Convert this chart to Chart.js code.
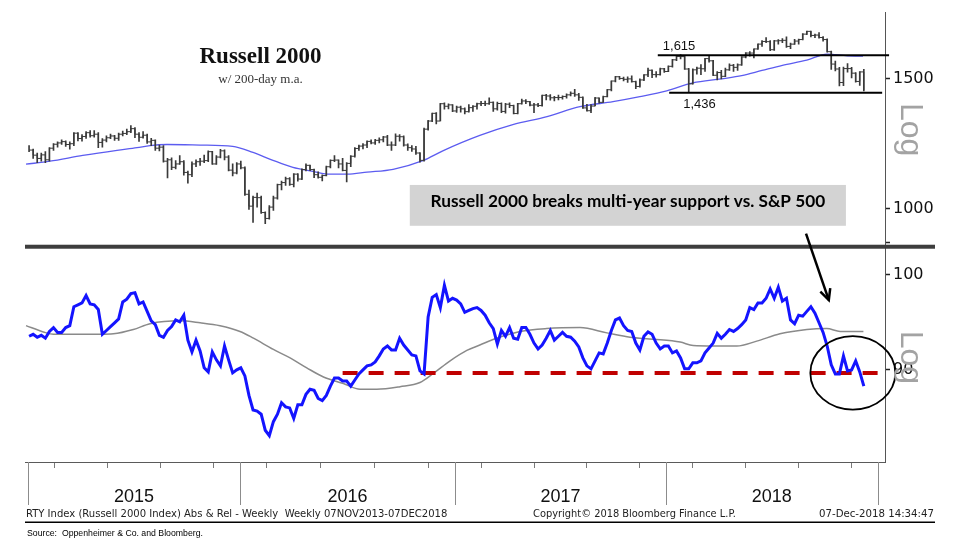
<!DOCTYPE html>
<html>
<head>
<meta charset="utf-8">
<title>Russell 2000 w/ 200-day m.a.</title>
<script src="https://cdn.jsdelivr.net/npm/chart.js@4.4.1/dist/chart.umd.min.js"></script>
<style>
  html, body { margin: 0; padding: 0; background: #fff; }
  canvas { display: block; }
</style>
</head>
<body>
<canvas id="rtyChart" width="959" height="549"></canvas>
<script>
// weekly bars, week 0 = 02-Jan-2015 ... week 205 = 07-Dec-2018
const closes = [
  1201,1182,1170,1183,1165,1208,1223,1228,1233,1222,1225,1266,1245,1253,1268,1256,1262,1230,1239,1248,
  1255,1246,1262,1265,1272,1284,1262,1250,1258,1232,1238,1208,1212,1160,1165,1138,1150,1158,1120,1112,
  1150,1158,1160,1162,1195,1150,1175,1198,1175,1128,1118,1150,1136,
  1046,1008,1036,1035,988,970,1005,1034,1078,1085,1098,1079,1114,1097,1130,1145,1130,1112,1103,1109,
  1140,1163,1164,1150,1127,1152,1178,1207,1216,1220,1234,1228,1238,1240,1251,1220,1220,1254,1252,1220,
  1210,1205,1190,1163,1282,1315,1347,1315,1388,1377,1383,1357,
  1373,1366,1354,1371,1377,1388,1389,1388,1394,1366,1389,1355,1386,1380,1346,1388,1400,1397,1382,1383,
  1380,1425,1422,1414,1415,1415,1420,1427,1434,1427,1416,1370,1358,1378,1413,1394,1419,1450,1490,1510,
  1502,1498,1500,1487,1465,1495,1519,1541,1520,1520,1548,1535,
  1560,1592,1609,1608,1547,1477,1543,1551,1548,1598,1587,1517,1530,1512,1543,1565,1555,1567,1606,1626,
  1626,1647,1672,1686,1685,1643,1689,1690,1692,1660,1672,1688,1696,1725,1740,1718,1720,1707,1696,1633,
  1571,1547,1483,1549,1549,1527,1488,1533,1448
];
const highs = [
  1218,1205,1190,1190,1195,1210,1226,1232,1240,1236,1232,1268,1268,1260,1272,1276,1276,1268,1245,1256,
  1262,1258,1266,1274,1282,1296,1288,1268,1272,1262,1246,1240,1220,1218,1170,1172,1162,1180,1162,1125,
  1158,1165,1170,1182,1198,1196,1180,1204,1202,1180,1150,1155,1160,
  1140,1060,1040,1050,1040,990,1010,1040,1080,1090,1104,1102,1116,1116,1133,1150,1146,1132,1122,1112,
  1142,1165,1180,1165,1170,1155,1180,1210,1220,1226,1236,1240,1242,1248,1254,1258,1232,1263,1260,1256,
  1225,1218,1215,1192,1286,1318,1348,1350,1390,1392,1388,1384,
  1378,1378,1370,1384,1380,1391,1398,1400,1414,1396,1395,1392,1390,1392,1382,1390,1408,1406,1398,1390,
  1390,1426,1429,1428,1420,1426,1423,1432,1440,1452,1434,1418,1385,1384,1416,1414,1422,1452,1491,1512,
  1512,1508,1510,1514,1490,1500,1520,1551,1543,1535,1552,1550,
  1562,1594,1612,1618,1610,1550,1548,1556,1568,1600,1615,1590,1535,1540,1552,1572,1570,1572,1608,1628,
  1634,1648,1673,1690,1707,1690,1692,1696,1701,1710,1678,1697,1698,1728,1742,1741,1725,1733,1712,1700,
  1636,1586,1555,1556,1574,1555,1530,1535,1545
];
const lows = [
  1195,1170,1155,1160,1155,1160,1200,1212,1222,1215,1204,1218,1236,1235,1245,1250,1250,1210,1212,1232,
  1244,1238,1238,1255,1260,1268,1248,1234,1246,1226,1218,1200,1198,1156,1101,1130,1132,1148,1110,1083,
  1105,1140,1145,1155,1158,1148,1148,1172,1165,1125,1108,1115,1132,
  1042,998,958,1005,985,954,968,995,1030,1060,1075,1075,1070,1090,1095,1125,1126,1102,1100,1091,
  1108,1136,1158,1136,1125,1087,1140,1175,1200,1205,1210,1224,1222,1228,1232,1218,1200,1218,1235,1216,
  1200,1196,1185,1156,1160,1278,1312,1303,1315,1365,1366,1354,
  1351,1352,1345,1352,1355,1365,1380,1380,1385,1355,1360,1350,1348,1371,1345,1345,1386,1388,1378,1350,
  1375,1377,1405,1403,1400,1405,1408,1412,1422,1420,1402,1368,1356,1350,1378,1390,1395,1418,1445,1486,
  1498,1490,1484,1485,1455,1462,1492,1510,1506,1508,1518,1530,
  1534,1556,1588,1596,1545,1440,1475,1522,1520,1535,1580,1515,1495,1500,1510,1540,1535,1540,1565,1602,
  1610,1602,1645,1660,1680,1638,1640,1672,1680,1655,1648,1670,1672,1694,1722,1710,1706,1704,1688,1630,
  1545,1538,1467,1469,1532,1505,1485,1470,1445
];
// 200-day moving average, read at these weeks
const priceMaWeeks = [-0.75, 5.1, 13.2, 21.6, 26.5, 29.7, 33.9, 42, 50, 55, 59.9, 64.8, 69.7, 73.2, 78.1, 83, 89.4,
  96.7, 101.6, 110.7, 118.8, 127.2, 135.3, 143.4, 150, 156.6, 163, 170, 175, 180, 185, 191, 196, 201, 204.8];
const priceMa = [1149, 1160, 1181, 1200, 1210, 1218, 1222, 1220, 1215, 1192, 1163, 1138, 1124, 1114, 1114, 1121, 1131,
  1162, 1198, 1257, 1300, 1333, 1375, 1397, 1419, 1445, 1481, 1500, 1515, 1540, 1565, 1590, 1621, 1612, 1611];

// relative strength vs. S&P 500, weekly
const relStrength = [
  93.4,93.6,93.3,93.5,93.2,93.9,94.3,93.8,93.8,94.3, 94.5,96.5,96.7,96.9,97.7,96.8,96.7,96.2,93.6,94.0,
  94.4,94.8,95.2,97.0,97.3,97.9,98.0,96.8,97.0,96.0, 95.0,94.6,93.5,93.3,94.0,94.4,95.1,94.9,95.6,93.0,
  91.8,93.0,91.9,90.2,89.8,91.8,91.0,90.4,92.4,91.0, 89.7,90.0,90.2,89.4,87.5,86.1,86.0,85.7,84.2,83.7,
  85.0,85.7,86.8,86.4,86.3,85.3,86.6,86.6,87.6,88.1, 88.0,87.2,87.0,87.5,88.4,89.2,89.2,88.9,88.9,88.4,
  89.0,89.6,90.0,90.4,90.5,90.8,91.4,92.1,92.4,92.0, 92.0,93.2,92.5,92.0,91.5,91.4,89.9,89.6,95.4,97.5,
  97.8,96.4,98.8,97.1,97.4,97.2,96.8,95.9,96.1,96.3, 96.4,96.1,95.6,94.8,94.2,92.6,94.0,93.4,94.3,93.2,
  93.1,94.3,94.3,93.6,92.7,92.1,92.5,93.2,94.0,93.0, 93.4,93.8,93.4,93.3,92.9,92.3,91.2,90.4,90.1,90.9,
  91.7,91.6,92.7,94.0,95.1,95.3,94.5,94.0,93.9,92.7, 92.0,93.4,93.85,93.6,92.7,92.1,92.4,92.4,91.7,91.9,
  91.2,90.1,90.1,90.7,90.7,90.9,91.7,92.2,92.7,93.7, 93.2,93.6,94.1,93.9,94.2,94.6,95.1,96.4,96.2,96.9,
  96.9,97.4,98.4,97.4,98.6,97.1,97.4,95.1,94.7,95.6, 95.5,96.0,96.5,95.8,94.8,93.8,92.4,90.5,89.6,89.6,
  91.4,89.9,90.0,90.9,89.8,88.4
];
const relMaWeeks = [-0.75, 3.5, 6.0, 17.4, 20.7, 25.6, 29.7, 37.1, 42.0, 46.9, 51.8, 55.1, 60.0, 64.1, 68.2, 72.3,
  77.2, 81.3, 85.4, 91.1, 96.0, 99.3, 103.4, 107.5, 110.7, 114.8, 120.6, 127.1, 135.3, 141.9, 147.6, 153.3,
  159.9, 163.1, 168.0, 173.8, 178.7, 184.4, 191.0, 195.9, 199.2, 204.9];
const relMa = [94.5, 93.85, 93.6, 93.6, 93.65, 94.1, 94.7, 95.0, 94.8, 94.5, 93.9, 93.2, 92.05, 91.2, 90.2, 89.3,
  88.65, 88.1, 88.1, 88.35, 88.75, 89.65, 90.9, 91.95, 92.5, 93.2, 93.9, 94.2, 94.3, 93.75, 93.3, 93.1,
  92.8, 92.45, 92.4, 92.4, 92.9, 93.65, 94.1, 94.2, 93.9, 93.9];

// axes
const yearStarts = [-0.25, 51.8, 104.6, 156.4, 208.4];
const yearLabels = ['2015', '2016', '2017', '2018'];
const priceTicks = [900, 1000, 1500];
const priceTickLabels = ['', '1000', '1500'];
const relTicks = [90, 100];
const relTickLabels = ['90', '100'];

// annotations
const resistance = 1615;
const resistanceWeeks = [154.4, 211.2];
const support = 1436;
const supportWeeks = [157.2, 209.5];
const relSupport = 89.7;
const relSupportWeeks = [77, 209.4];
const calloutWeeks = [93.5, 200.6];
const calloutLevels = [1077, 948];
const calloutText = 'Russell 2000 breaks multi-year support vs. S&P 500';
const arrowFrom = [190.8, 925];
const arrowTo = [196.4, 97.2];
const circleAt = [202.3, 89.7];

const footLeft = 'RTY Index (Russell 2000 Index) Abs & Rel - Weekly  Weekly 07NOV2013-07DEC2018';
const footMid = 'Copyright\u00A9 2018 Bloomberg Finance L.P.';
const footRight = '07-Dec-2018 14:34:47';
const sourceText = 'Source:  Oppenheimer & Co. and Bloomberg.';

const quarterTicks = [];
yearStarts.slice(0, -1).forEach((start, k) => {
  const step = (yearStarts[k + 1] - start) / 4;
  for (let q = 0; q < 4; q++) quarterTicks.push(start + q * step);
});
quarterTicks.push(yearStarts[yearStarts.length - 1]);

const ranges = closes.map((c, i) => {
  const open = i > 0 ? closes[i - 1] : c;
  return { x: i, y: [Math.min(lows[i], open, c), Math.max(highs[i], open, c)] };
});

function fitFont(ctx, text, weight, family, width) {
  ctx.font = `${weight} 20px ${family}`;
  const size = 20 * width / ctx.measureText(text).width;
  ctx.font = `${weight} ${size.toFixed(2)}px ${family}`;
}

const annotate = {
  id: 'annotate',
  beforeDatasetsDraw(chart) {
    const { ctx, scales: { x, yTop } } = chart;
    const left = x.getPixelForValue(calloutWeeks[0]);
    const right = x.getPixelForValue(calloutWeeks[1]);
    const top = yTop.getPixelForValue(calloutLevels[0]);
    const bottom = yTop.getPixelForValue(calloutLevels[1]);
    ctx.save();
    ctx.fillStyle = '#d3d3d3';
    ctx.fillRect(left, top, right - left, bottom - top);
    fitFont(ctx, calloutText, 'bold', "Lato, 'Open Sans', sans-serif", 395);
    ctx.fillStyle = '#000';
    ctx.textAlign = 'center';
    ctx.textBaseline = 'alphabetic';
    ctx.fillText(calloutText, (left + right) / 2, bottom - 19);
    ctx.restore();
  },
  afterDraw(chart) {
    const { ctx, chartArea, scales: { x, yTop, yBot } } = chart;
    ctx.save();

    // panel separator
    ctx.fillStyle = '#3d3d3d';
    ctx.fillRect(chartArea.left, yTop.bottom - 2, chart.width - 24 - chartArea.left, 4);

    // year separators and labels
    ctx.strokeStyle = '#8c8c8c';
    ctx.lineWidth = 1;
    yearStarts.forEach(v => {
      const px = Math.round(x.getPixelForValue(v)) + 0.5;
      ctx.beginPath();
      ctx.moveTo(px, x.top);
      ctx.lineTo(px, x.top + 43);
      ctx.stroke();
    });
    ctx.fillStyle = '#111';
    ctx.textAlign = 'center';
    ctx.textBaseline = 'alphabetic';
    yearLabels.forEach((label, k) => {
      fitFont(ctx, label, 'normal', "'Liberation Sans Narrow', 'Liberation Sans', sans-serif", 40);
      const mid = x.getPixelForValue((yearStarts[k] + yearStarts[k + 1]) / 2);
      ctx.fillText(label, mid, x.top + 40);
    });

    // support / resistance labels
    ctx.font = "13px 'Liberation Sans', sans-serif";
    ctx.textAlign = 'left';
    ctx.fillStyle = '#111';
    ctx.fillText(resistance.toLocaleString('en-US'), x.getPixelForValue(resistanceWeeks[0]) + 5,
      yTop.getPixelForValue(resistance) - 5);
    ctx.fillText(support.toLocaleString('en-US'), x.getPixelForValue(supportWeeks[0]) + 14,
      yTop.getPixelForValue(support) + 15);

    // arrow
    const ax0 = x.getPixelForValue(arrowFrom[0]), ay0 = yTop.getPixelForValue(arrowFrom[1]);
    const ax1 = x.getPixelForValue(arrowTo[0]), ay1 = yBot.getPixelForValue(arrowTo[1]);
    ctx.strokeStyle = '#000';
    ctx.lineWidth = 2.5;
    ctx.beginPath();
    ctx.moveTo(ax0, ay0);
    ctx.lineTo(ax1, ay1);
    ctx.stroke();
    const ang = Math.atan2(ay1 - ay0, ax1 - ax0);
    ctx.beginPath();
    ctx.moveTo(ax1 - 12 * Math.cos(ang - 0.45), ay1 - 12 * Math.sin(ang - 0.45));
    ctx.lineTo(ax1, ay1);
    ctx.lineTo(ax1 - 12 * Math.cos(ang + 0.45), ay1 - 12 * Math.sin(ang + 0.45));
    ctx.stroke();

    // circle round the break
    ctx.lineWidth = 1.8;
    ctx.beginPath();
    ctx.ellipse(x.getPixelForValue(circleAt[0]), yBot.getPixelForValue(circleAt[1]), 42.5, 36.7, 0, 0, Math.PI * 2);
    ctx.stroke();

    // title
    ctx.textAlign = 'center';
    ctx.fillStyle = '#111';
    ctx.font = "bold 23px 'Liberation Serif', serif";
    ctx.fillText('Russell 2000', 260.5, 63);
    ctx.fillStyle = '#333';
    ctx.font = "13px 'Liberation Serif', serif";
    ctx.fillText('w/ 200-day m.a.', 260.5, 83);

    // "Log" axis marks
    ctx.fillStyle = '#a3a3a3';
    ctx.font = "32px 'Liberation Sans', sans-serif";
    [yTop, yBot].forEach((s, k) => {
      ctx.save();
      ctx.translate(chartArea.right + 16, (s.top + s.bottom) / 2 + (k ? 3 : 0));
      ctx.rotate(Math.PI / 2);
      ctx.textAlign = 'center';
      ctx.fillText('Log', 0, 0);
      ctx.restore();
    });

    // footer
    const footFamily = "'DejaVu Sans Condensed', 'Liberation Sans Narrow', sans-serif";
    ctx.textAlign = 'left';
    ctx.fillStyle = '#222';
    fitFont(ctx, footLeft, 'normal', footFamily, 422);
    ctx.fillText(footLeft, 26, 517);
    fitFont(ctx, footMid, 'normal', footFamily, 203);
    ctx.fillText(footMid, 533, 517);
    fitFont(ctx, footRight, 'normal', footFamily, 115);
    ctx.fillText(footRight, 819, 517);
    ctx.fillStyle = '#000';
    ctx.fillRect(25, 521.5, 910, 1.5);
    fitFont(ctx, sourceText, 'normal', "'Liberation Sans Narrow', 'Liberation Sans', sans-serif", 176);
    ctx.fillText(sourceText, 27, 536);
    ctx.restore();
  }
};

const tickFont = { family: "'DejaVu Sans', sans-serif", size: 16 };

new Chart(document.getElementById('rtyChart').getContext('2d'), {
  type: 'line',
  data: {
    datasets: [
      {
        label: 'RTY close', data: closes.map((c, i) => ({ x: i, y: c })), yAxisID: 'yTop',
        stepped: 'before', borderColor: '#3a3a3a', borderWidth: 1, pointRadius: 0, order: 2
      },
      {
        type: 'bar', label: 'RTY range', data: ranges, yAxisID: 'yTop',
        backgroundColor: '#3a3a3a', borderWidth: 0, barThickness: 1, order: 3
      },
      {
        label: '200-day m.a.', data: priceMaWeeks.map((w, k) => ({ x: w, y: priceMa[k] })), yAxisID: 'yTop',
        borderColor: '#5c5cf0', borderWidth: 1.3, pointRadius: 0, cubicInterpolationMode: 'monotone', order: 4
      },
      {
        label: 'resistance', data: resistanceWeeks.map(w => ({ x: w, y: resistance })), yAxisID: 'yTop',
        borderColor: '#000', borderWidth: 2, pointRadius: 0, clip: false, order: 1
      },
      {
        label: 'support', data: supportWeeks.map(w => ({ x: w, y: support })), yAxisID: 'yTop',
        borderColor: '#000', borderWidth: 2, pointRadius: 0, order: 1
      },
      {
        label: 'Relative to S&P 500', data: relStrength.map((v, i) => ({ x: i, y: v })), yAxisID: 'yBot',
        borderColor: '#1414ff', borderWidth: 3, pointRadius: 0, order: 0
      },
      {
        label: 'relative support', data: relSupportWeeks.map(w => ({ x: w, y: relSupport })), yAxisID: 'yBot',
        borderColor: '#c00000', borderWidth: 4, borderDash: [15, 11], pointRadius: 0, order: 1
      },
      {
        label: 'relative m.a.', data: relMaWeeks.map((w, k) => ({ x: w, y: relMa[k] })), yAxisID: 'yBot',
        borderColor: '#8a8a8a', borderWidth: 1.5, pointRadius: 0, cubicInterpolationMode: 'monotone', order: 2
      }
    ]
  },
  options: {
    responsive: false,
    animation: false,
    devicePixelRatio: 1,
    events: [],
    layout: { padding: { left: 25, top: 9, right: 0, bottom: 0 } },
    plugins: { legend: { display: false }, tooltip: { enabled: false } },
    scales: {
      x: {
        type: 'linear', min: -1, max: 210.2, offset: false,
        afterBuildTicks: s => { s.ticks = quarterTicks.map(v => ({ value: v })); },
        afterFit: s => { s.height = 87; },
        ticks: { display: false },
        grid: { drawOnChartArea: false, tickLength: 6, tickColor: '#7a7a7a', tickWidth: 1 },
        border: { color: '#5a5a5a', width: 1 }
      },
      yTop: {
        type: 'logarithmic', position: 'right', stack: 'panels', stackWeight: 236,
        min: 888, max: 1845,
        afterBuildTicks: s => { s.ticks = priceTicks.map(v => ({ value: v })); },
        afterFit: s => { s.width = 74; },
        ticks: { padding: 3, color: '#111', font: tickFont, callback: (v, idx) => priceTickLabels[idx] },
        grid: { drawOnChartArea: false, tickLength: 5, tickColor: '#222', tickWidth: 1.5 },
        border: { color: '#555' }
      },
      yBot: {
        type: 'logarithmic', position: 'right', stack: 'panels', stackWeight: 217,
        min: 81.3, max: 103.1,
        afterBuildTicks: s => { s.ticks = relTicks.map(v => ({ value: v })); },
        afterFit: s => { s.width = 74; },
        ticks: { padding: 3, color: '#111', font: tickFont, callback: (v, idx) => relTickLabels[idx] },
        grid: { drawOnChartArea: false, tickLength: 5, tickColor: '#222', tickWidth: 1.5 },
        border: { color: '#555' }
      }
    }
  },
  plugins: [annotate]
});
</script>
</body>
</html>
